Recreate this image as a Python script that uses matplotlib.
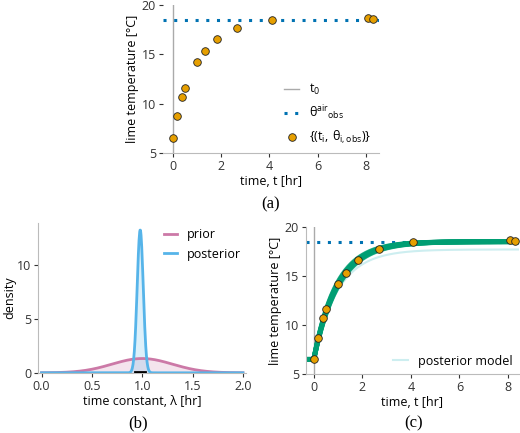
import numpy as np
import matplotlib.pyplot as plt

plt.rcParams['font.family'] = ['Open Sans', 'DejaVu Sans']
plt.rcParams['font.size'] = 9
plt.rcParams['axes.labelpad'] = 1.5

t_obs = [0.0, 0.17, 0.38, 0.5, 1.0, 1.33, 1.83, 2.67, 4.1, 8.08, 8.3]
theta_obs = [6.5, 8.7, 10.7, 11.6, 14.2, 15.3, 16.6, 17.7, 18.5, 18.7, 18.6]
theta_air = 18.5
theta_0 = 6.5

prior_mean, prior_sd = 1.0, 0.3
post_mean, post_sd = 0.98, 0.03
ci_lo, ci_hi = 0.93, 1.03
lam_draws = [0.93, 0.95, 0.97, 0.98, 0.99, 1.01, 1.03]

orange = '#E69F00'
blue_dot = '#0072B2'
pink = '#CC79A7'
sky = '#56B4E9'
green = '#009E73'
gray = '#aaaaaa'


def style(ax):
    for s in ['top', 'right']:
        ax.spines[s].set_visible(False)
    for s in ['left', 'bottom']:
        ax.spines[s].set_color('#bbbbbb')
    ax.tick_params(colors='#333333', length=3, pad=2)


fig = plt.figure(figsize=(5.2, 4.33), dpi=100)

# (a)
ax = fig.add_axes([0.313, 0.647, 0.416, 0.341])
style(ax)
ax.spines['left'].set_visible(False)
ax.axvline(0, color=gray, lw=1, label=r'$\mathregular{t_0}$')
ax.axhline(theta_air, color=blue_dot, ls=(0, (1, 2.5)), lw=2.2,
           label=r'$\mathregular{\theta^{air}{}_{obs}}$')
ax.scatter(t_obs, theta_obs, s=30, color=orange, edgecolor='#222222', lw=0.6, zorder=3,
           label=r'$\mathregular{\{(t_i,\, \theta_{i,obs})\}}$')
ax.set_xlim(-0.42, 8.55)
ax.set_ylim(5, 20)
ax.set_xticks([0, 2, 4, 6, 8])
ax.set_yticks([5, 10, 15, 20])
ax.set_xlabel('time, t [hr]')
ax.set_ylabel('lime temperature [°C]')
ax.legend(loc='lower right', frameon=False, handlelength=1.2, borderaxespad=0.2)
fig.text(0.521, 0.518, '(a)', family='Liberation Serif', fontsize=12, ha='center')

# (b)
ax = fig.add_axes([0.074, 0.139, 0.399, 0.345])
style(ax)
lam = np.linspace(0, 2, 600)
prior = np.exp(-0.5 * ((lam - prior_mean) / prior_sd) ** 2) / (prior_sd * np.sqrt(2 * np.pi))
post = np.exp(-0.5 * ((lam - post_mean) / post_sd) ** 2) / (post_sd * np.sqrt(2 * np.pi))
ax.fill_between(lam, prior, color=pink, alpha=0.2, lw=0)
ax.plot(lam, prior, color=pink, lw=2, label='prior')
ax.fill_between(lam, post, color=sky, alpha=0.2, lw=0)
ax.plot(lam, post, color=sky, lw=2, label='posterior')
ax.plot([ci_lo, ci_hi], [0.05, 0.05], color='black', lw=2, zorder=4)
ax.set_xlim(-0.03, 2.03)
ax.set_ylim(0, 13.9)
ax.set_xticks([0.0, 0.5, 1.0, 1.5, 2.0])
ax.set_yticks([0, 5, 10])
ax.set_xlabel('time constant, λ [hr]')
ax.set_ylabel('density', labelpad=0.5)
ax.legend(loc='upper right', frameon=False, handlelength=1.0, borderaxespad=0.0)
fig.text(0.265, 0.012, '(b)', family='Liberation Serif', fontsize=12, ha='center')

# (c)
ax = fig.add_axes([0.588, 0.136, 0.41, 0.34])
style(ax)
ax.axvline(0, color=gray, lw=1)
ax.axhline(theta_air, color=blue_dot, ls=(0, (1, 2.5)), lw=2.2)
tt = np.linspace(-0.3, 8.45, 300)
for lmb in lam_draws:
    th = theta_air - (theta_air - theta_0) * np.exp(-np.clip(tt, 0, None) / lmb)
    ax.plot(tt, th, color=green, lw=3.5, alpha=0.8, solid_capstyle='butt')
th = (theta_air - 0.8) - (theta_air - 0.8 - theta_0) * np.exp(-np.clip(tt, 0, None) / 1.0)
ax.plot(tt, th, color='#cdeef0', lw=1.5, zorder=1, label='posterior model')
ax.scatter(t_obs, theta_obs, s=30, color=orange, edgecolor='#222222', lw=0.6, zorder=3)
ax.set_xlim(-0.33, 8.45)
ax.set_ylim(5, 20)
ax.set_xticks([0, 2, 4, 6, 8])
ax.set_yticks([5, 10, 15, 20])
ax.set_xlabel('time, t [hr]')
ax.set_ylabel('lime temperature [°C]')
ax.legend(loc='lower right', frameon=False, handlelength=1.2, borderaxespad=0.1)
fig.text(0.795, 0.012, '(c)', family='Liberation Serif', fontsize=12, ha='center')

fig.savefig('out.png', dpi=100)
